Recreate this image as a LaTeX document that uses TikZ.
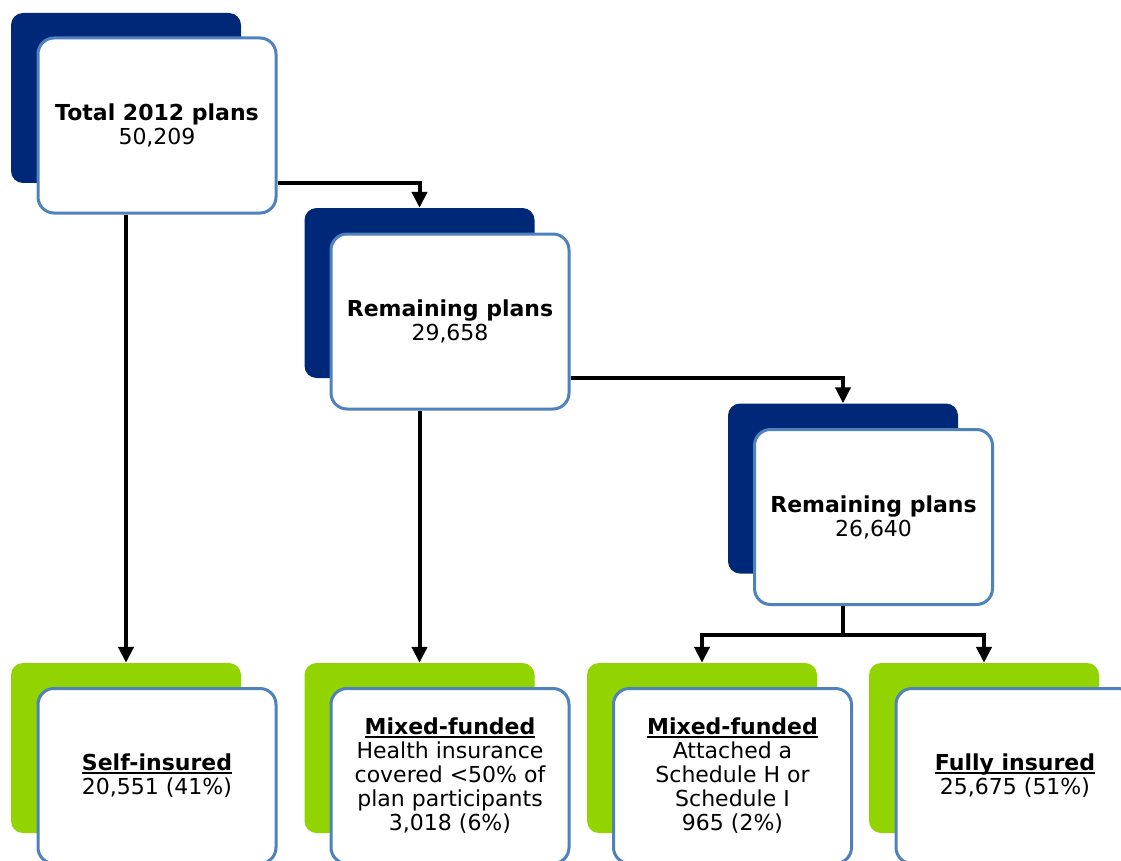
\documentclass[tikz,border=0pt]{standalone}
\usepackage{fontspec}
\setmainfont{DejaVu Sans}
\usetikzlibrary{arrows.meta}

\definecolor{cNavy}{RGB}{0,40,120}
\definecolor{cLime}{RGB}{146,212,0}
\definecolor{cFrame}{RGB}{79,129,189}

\newsavebox\headbox
\newcommand{\ulbf}[1]{\sbox\headbox{\bfseries #1}\rlap{\rule[-3pt]{\wd\headbox}{1.8pt}}\usebox\headbox}

\tikzset{
  tile/.style={rounded corners=12pt, minimum width=230pt, minimum height=170pt, inner sep=0pt},
  navytile/.style={tile, fill=cNavy},
  limetile/.style={tile, fill=cLime},
  card/.style={draw=cFrame, line width=3pt, fill=white, rounded corners=16pt,
    minimum width=238pt, minimum height=175pt, inner sep=0pt, align=center,
    font=\fontsize{22}{24}\selectfont},
  link/.style={line width=4pt},
  flow/.style={link, -{Triangle[length=16pt,width=15pt]}}
}

\begin{document}
\begin{tikzpicture}[x=1pt, y=-1pt]
	\useasboundingbox (0,0) rectangle (1121,861);
	% Back tiles
	\node[navytile] (topb)  at (126,98)    {};
	\node[navytile] (rem1b) at (419.5,293) {};
	\node[navytile] (rem2b) at (843,488.5) {};
	\node[limetile] (selfb) at (126,748)   {};
	\node[limetile] (mix1b) at (419.5,748) {};
	\node[limetile] (mix2b) at (702,748)   {};
	\node[limetile] (fullb) at (984,748)   {};
	% Cards
	\node[card] (top)  at (157,125.5) {\textbf{Total 2012 plans}\\50,209};
	\node[card] (rem1) at (450,321.5) {\textbf{Remaining plans}\\29,658};
	\node[card] (rem2) at (873.5,517) {\textbf{Remaining plans}\\26,640};
	\node[card] (self) at (157,776)   {\ulbf{Self-insured}\\20,551 (41\%)};
	\node[card] (mix1) at (450,776)   {\ulbf{Mixed-funded}\\Health insurance\\covered <50\% of\\plan participants\\3,018 (6\%)};
	\node[card] (mix2) at (732.5,776) {\ulbf{Mixed-funded}\\Attached a\\Schedule H or\\Schedule I\\965 (2\%)};
	\node[card] (full) at (1015,776)  {\ulbf{Fully insured}\\25,675 (51\%)};
	% Connectors
	\draw[flow] (top.east |- topb.south) -| (rem1b.north);
	\draw[flow] (top.south -| topb.south) -- (selfb.north);
	\draw[flow] (rem1.east |- rem1b.south) -| (rem2b.north);
	\draw[flow] (rem1.south -| rem1b.south) -- (mix1b.north);
	\coordinate (split) at (843,635);
	\draw[link] (rem2.south -| split) -- (split);
	\draw[flow] (split) -| (mix2b.north);
	\draw[flow] (split) -| (fullb.north);
\end{tikzpicture}
\end{document}
